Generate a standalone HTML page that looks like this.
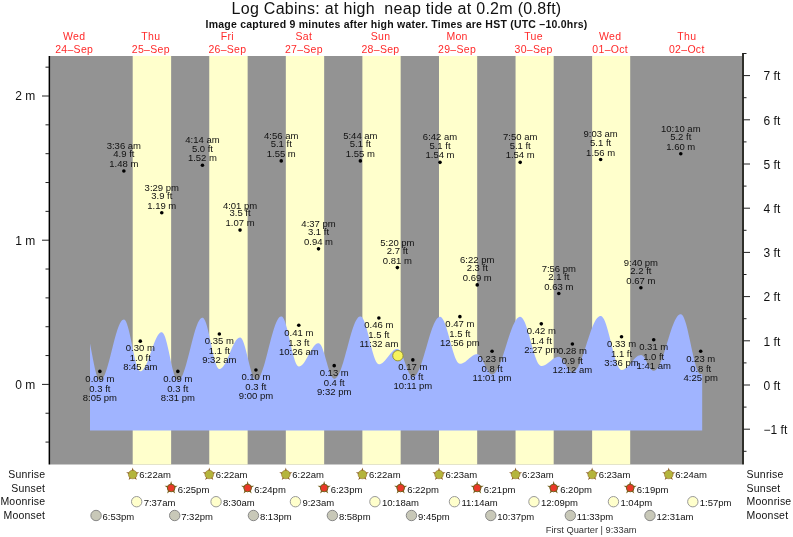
<!DOCTYPE html><html><head><meta charset="utf-8"><style>html,body{margin:0;padding:0;background:#fff;width:793px;height:537px;overflow:hidden}svg{display:block;will-change:transform}text{font-family:"Liberation Sans",sans-serif}</style></head><body>
<svg width="793" height="537" viewBox="0 0 793 537">
<rect width="793" height="537" fill="#fff"/>
<text x="396.5" y="13.6" font-size="16" letter-spacing="0.29" text-anchor="middle" fill="#111">Log Cabins: at high  neap tide at 0.2m (0.8ft)</text>
<text x="396.5" y="27.6" font-size="10.5" letter-spacing="0.23" font-weight="bold" text-anchor="middle" fill="#111">Image captured 9 minutes after high water. Times are HST (UTC –10.0hrs)</text>
<text x="74.2" y="39.7" font-size="10.5" letter-spacing="0.3" text-anchor="middle" fill="#ff2a2a">Wed</text>
<text x="74.2" y="52.6" font-size="10.5" letter-spacing="0.3" text-anchor="middle" fill="#ff2a2a">24–Sep</text>
<text x="150.8" y="39.7" font-size="10.5" letter-spacing="0.3" text-anchor="middle" fill="#ff2a2a">Thu</text>
<text x="150.8" y="52.6" font-size="10.5" letter-spacing="0.3" text-anchor="middle" fill="#ff2a2a">25–Sep</text>
<text x="227.4" y="39.7" font-size="10.5" letter-spacing="0.3" text-anchor="middle" fill="#ff2a2a">Fri</text>
<text x="227.4" y="52.6" font-size="10.5" letter-spacing="0.3" text-anchor="middle" fill="#ff2a2a">26–Sep</text>
<text x="303.9" y="39.7" font-size="10.5" letter-spacing="0.3" text-anchor="middle" fill="#ff2a2a">Sat</text>
<text x="303.9" y="52.6" font-size="10.5" letter-spacing="0.3" text-anchor="middle" fill="#ff2a2a">27–Sep</text>
<text x="380.5" y="39.7" font-size="10.5" letter-spacing="0.3" text-anchor="middle" fill="#ff2a2a">Sun</text>
<text x="380.5" y="52.6" font-size="10.5" letter-spacing="0.3" text-anchor="middle" fill="#ff2a2a">28–Sep</text>
<text x="457.1" y="39.7" font-size="10.5" letter-spacing="0.3" text-anchor="middle" fill="#ff2a2a">Mon</text>
<text x="457.1" y="52.6" font-size="10.5" letter-spacing="0.3" text-anchor="middle" fill="#ff2a2a">29–Sep</text>
<text x="533.6" y="39.7" font-size="10.5" letter-spacing="0.3" text-anchor="middle" fill="#ff2a2a">Tue</text>
<text x="533.6" y="52.6" font-size="10.5" letter-spacing="0.3" text-anchor="middle" fill="#ff2a2a">30–Sep</text>
<text x="610.2" y="39.7" font-size="10.5" letter-spacing="0.3" text-anchor="middle" fill="#ff2a2a">Wed</text>
<text x="610.2" y="52.6" font-size="10.5" letter-spacing="0.3" text-anchor="middle" fill="#ff2a2a">01–Oct</text>
<text x="686.8" y="39.7" font-size="10.5" letter-spacing="0.3" text-anchor="middle" fill="#ff2a2a">Thu</text>
<text x="686.8" y="52.6" font-size="10.5" letter-spacing="0.3" text-anchor="middle" fill="#ff2a2a">02–Oct</text>
<rect x="50" y="56" width="692" height="408.5" fill="#939393"/>
<rect x="132.69" y="56" width="38.44" height="408.5" fill="#ffffcc"/>
<rect x="209.25" y="56" width="38.39" height="408.5" fill="#ffffcc"/>
<rect x="285.82" y="56" width="38.34" height="408.5" fill="#ffffcc"/>
<rect x="362.38" y="56" width="38.28" height="408.5" fill="#ffffcc"/>
<rect x="439.00" y="56" width="38.18" height="408.5" fill="#ffffcc"/>
<rect x="515.56" y="56" width="38.12" height="408.5" fill="#ffffcc"/>
<rect x="592.13" y="56" width="38.07" height="408.5" fill="#ffffcc"/>
<path d="M90.00,430.5 L90.00,343.61 L91.00,348.73 L92.00,354.02 L93.00,359.30 L94.00,364.36 L95.00,368.99 L96.00,373.03 L97.00,376.31 L98.00,378.71 L99.00,380.14 L100.00,380.54 L101.00,380.22 L102.00,379.37 L103.00,378.03 L104.00,376.20 L105.00,373.93 L106.00,371.24 L107.00,368.19 L108.00,364.83 L109.00,361.21 L110.00,357.41 L111.00,353.47 L112.00,349.48 L113.00,345.49 L114.00,341.58 L115.00,337.82 L116.00,334.27 L117.00,330.98 L118.00,328.02 L119.00,325.44 L120.00,323.28 L121.00,321.57 L122.00,320.36 L123.00,319.65 L124.00,319.46 L125.00,320.07 L126.00,321.60 L127.00,323.99 L128.00,327.17 L129.00,331.00 L130.00,335.37 L131.00,340.10 L132.00,345.02 L133.00,349.95 L134.00,354.72 L135.00,359.15 L136.00,363.07 L137.00,366.35 L138.00,368.87 L139.00,370.53 L140.00,371.28 L141.00,371.21 L142.00,370.71 L143.00,369.80 L144.00,368.50 L145.00,366.85 L146.00,364.88 L147.00,362.63 L148.00,360.14 L149.00,357.48 L150.00,354.69 L151.00,351.84 L152.00,348.99 L153.00,346.20 L154.00,343.53 L155.00,341.03 L156.00,338.76 L157.00,336.77 L158.00,335.10 L159.00,333.78 L160.00,332.85 L161.00,332.32 L162.00,332.22 L163.00,332.90 L164.00,334.46 L165.00,336.87 L166.00,340.02 L167.00,343.79 L168.00,348.04 L169.00,352.61 L170.00,357.33 L171.00,362.00 L172.00,366.47 L173.00,370.54 L174.00,374.08 L175.00,376.94 L176.00,379.02 L177.00,380.23 L178.00,380.54 L179.00,380.19 L180.00,379.34 L181.00,378.00 L182.00,376.19 L183.00,373.94 L184.00,371.29 L185.00,368.27 L186.00,364.95 L187.00,361.36 L188.00,357.58 L189.00,353.66 L190.00,349.67 L191.00,345.66 L192.00,341.72 L193.00,337.89 L194.00,334.24 L195.00,330.84 L196.00,327.74 L197.00,324.98 L198.00,322.62 L199.00,320.68 L200.00,319.21 L201.00,318.23 L202.00,317.75 L203.00,317.83 L204.00,318.76 L205.00,320.54 L206.00,323.10 L207.00,326.37 L208.00,330.22 L209.00,334.52 L210.00,339.13 L211.00,343.89 L212.00,348.63 L213.00,353.19 L214.00,357.42 L215.00,361.16 L216.00,364.29 L217.00,366.70 L218.00,368.31 L219.00,369.06 L220.00,369.04 L221.00,368.62 L222.00,367.86 L223.00,366.75 L224.00,365.34 L225.00,363.65 L226.00,361.72 L227.00,359.59 L228.00,357.32 L229.00,354.96 L230.00,352.56 L231.00,350.18 L232.00,347.87 L233.00,345.68 L234.00,343.67 L235.00,341.88 L236.00,340.35 L237.00,339.13 L238.00,338.22 L239.00,337.67 L240.00,337.47 L241.00,337.86 L242.00,339.06 L243.00,341.03 L244.00,343.69 L245.00,346.93 L246.00,350.64 L247.00,354.67 L248.00,358.85 L249.00,363.04 L250.00,367.05 L251.00,370.75 L252.00,373.98 L253.00,376.62 L254.00,378.57 L255.00,379.74 L256.00,380.10 L257.00,379.83 L258.00,379.06 L259.00,377.82 L260.00,376.13 L261.00,374.01 L262.00,371.49 L263.00,368.61 L264.00,365.42 L265.00,361.97 L266.00,358.30 L267.00,354.48 L268.00,350.57 L269.00,346.61 L270.00,342.69 L271.00,338.84 L272.00,335.15 L273.00,331.65 L274.00,328.41 L275.00,325.48 L276.00,322.89 L277.00,320.70 L278.00,318.92 L279.00,317.60 L280.00,316.76 L281.00,316.39 L282.00,316.61 L283.00,317.61 L284.00,319.37 L285.00,321.84 L286.00,324.93 L287.00,328.55 L288.00,332.58 L289.00,336.90 L290.00,341.36 L291.00,345.82 L292.00,350.14 L293.00,354.19 L294.00,357.82 L295.00,360.93 L296.00,363.42 L297.00,365.21 L298.00,366.23 L299.00,366.47 L300.00,366.26 L301.00,365.77 L302.00,364.99 L303.00,363.96 L304.00,362.69 L305.00,361.23 L306.00,359.61 L307.00,357.86 L308.00,356.04 L309.00,354.19 L310.00,352.35 L311.00,350.58 L312.00,348.91 L313.00,347.40 L314.00,346.07 L315.00,344.96 L316.00,344.11 L317.00,343.52 L318.00,343.23 L319.00,343.27 L320.00,343.97 L321.00,345.35 L322.00,347.35 L323.00,349.90 L324.00,352.89 L325.00,356.21 L326.00,359.71 L327.00,363.27 L328.00,366.74 L329.00,369.97 L330.00,372.85 L331.00,375.25 L332.00,377.09 L333.00,378.27 L334.00,378.77 L335.00,378.64 L336.00,378.06 L337.00,377.04 L338.00,375.59 L339.00,373.74 L340.00,371.52 L341.00,368.95 L342.00,366.07 L343.00,362.92 L344.00,359.56 L345.00,356.02 L346.00,352.36 L347.00,348.63 L348.00,344.89 L349.00,341.18 L350.00,337.57 L351.00,334.10 L352.00,330.83 L353.00,327.79 L354.00,325.04 L355.00,322.62 L356.00,320.56 L357.00,318.88 L358.00,317.62 L359.00,316.79 L360.00,316.41 L361.00,316.52 L362.00,317.30 L363.00,318.74 L364.00,320.81 L365.00,323.43 L366.00,326.55 L367.00,330.06 L368.00,333.86 L369.00,337.85 L370.00,341.91 L371.00,345.93 L372.00,349.78 L373.00,353.36 L374.00,356.57 L375.00,359.31 L376.00,361.51 L377.00,363.09 L378.00,364.03 L379.00,364.28 L380.00,364.14 L381.00,363.78 L382.00,363.22 L383.00,362.46 L384.00,361.54 L385.00,360.47 L386.00,359.29 L387.00,358.04 L388.00,356.74 L389.00,355.44 L390.00,354.17 L391.00,352.97 L392.00,351.88 L393.00,350.92 L394.00,350.12 L395.00,349.51 L396.00,349.11 L397.00,348.92 L398.00,349.02 L399.00,349.67 L400.00,350.86 L401.00,352.56 L402.00,354.68 L403.00,357.14 L404.00,359.84 L405.00,362.67 L406.00,365.51 L407.00,368.25 L408.00,370.77 L409.00,372.97 L410.00,374.76 L411.00,376.06 L412.00,376.83 L413.00,377.02 L414.00,376.76 L415.00,376.09 L416.00,375.04 L417.00,373.61 L418.00,371.82 L419.00,369.71 L420.00,367.28 L421.00,364.59 L422.00,361.66 L423.00,358.53 L424.00,355.25 L425.00,351.86 L426.00,348.40 L427.00,344.92 L428.00,341.46 L429.00,338.09 L430.00,334.82 L431.00,331.72 L432.00,328.83 L433.00,326.17 L434.00,323.79 L435.00,321.73 L436.00,319.99 L437.00,318.62 L438.00,317.63 L439.00,317.02 L440.00,316.82 L441.00,317.10 L442.00,317.97 L443.00,319.39 L444.00,321.34 L445.00,323.76 L446.00,326.59 L447.00,329.76 L448.00,333.20 L449.00,336.81 L450.00,340.51 L451.00,344.21 L452.00,347.81 L453.00,351.22 L454.00,354.37 L455.00,357.16 L456.00,359.53 L457.00,361.43 L458.00,362.80 L459.00,363.61 L460.00,363.84 L461.00,363.75 L462.00,363.50 L463.00,363.10 L464.00,362.57 L465.00,361.92 L466.00,361.17 L467.00,360.36 L468.00,359.50 L469.00,358.62 L470.00,357.76 L471.00,356.94 L472.00,356.19 L473.00,355.53 L474.00,354.98 L475.00,354.56 L476.00,354.29 L477.00,354.18 L478.00,354.31 L479.00,354.88 L480.00,355.87 L481.00,357.23 L482.00,358.91 L483.00,360.83 L484.00,362.91 L485.00,365.04 L486.00,367.14 L487.00,369.12 L488.00,370.88 L489.00,372.34 L490.00,373.44 L491.00,374.14 L492.00,374.39 L493.00,374.23 L494.00,373.72 L495.00,372.86 L496.00,371.65 L497.00,370.12 L498.00,368.29 L499.00,366.17 L500.00,363.80 L501.00,361.20 L502.00,358.40 L503.00,355.45 L504.00,352.37 L505.00,349.21 L506.00,346.01 L507.00,342.80 L508.00,339.62 L509.00,336.52 L510.00,333.53 L511.00,330.69 L512.00,328.04 L513.00,325.61 L514.00,323.42 L515.00,321.52 L516.00,319.91 L517.00,318.62 L518.00,317.67 L519.00,317.07 L520.00,316.82 L521.00,317.00 L522.00,317.71 L523.00,318.94 L524.00,320.67 L525.00,322.86 L526.00,325.46 L527.00,328.42 L528.00,331.66 L529.00,335.12 L530.00,338.71 L531.00,342.37 L532.00,346.01 L533.00,349.54 L534.00,352.90 L535.00,356.00 L536.00,358.78 L537.00,361.18 L538.00,363.14 L539.00,364.62 L540.00,365.58 L541.00,366.02 L542.00,366.00 L543.00,365.83 L544.00,365.51 L545.00,365.06 L546.00,364.49 L547.00,363.82 L548.00,363.08 L549.00,362.29 L550.00,361.46 L551.00,360.64 L552.00,359.84 L553.00,359.09 L554.00,358.42 L555.00,357.84 L556.00,357.38 L557.00,357.05 L558.00,356.86 L559.00,356.82 L560.00,357.11 L561.00,357.79 L562.00,358.83 L563.00,360.17 L564.00,361.73 L565.00,363.45 L566.00,365.22 L567.00,366.95 L568.00,368.55 L569.00,369.94 L570.00,371.04 L571.00,371.80 L572.00,372.16 L573.00,372.13 L574.00,371.75 L575.00,371.03 L576.00,369.97 L577.00,368.59 L578.00,366.91 L579.00,364.95 L580.00,362.73 L581.00,360.27 L582.00,357.62 L583.00,354.80 L584.00,351.85 L585.00,348.80 L586.00,345.69 L587.00,342.56 L588.00,339.45 L589.00,336.40 L590.00,333.44 L591.00,330.61 L592.00,327.95 L593.00,325.49 L594.00,323.26 L595.00,321.29 L596.00,319.60 L597.00,318.21 L598.00,317.14 L599.00,316.40 L600.00,316.01 L601.00,315.98 L602.00,316.51 L603.00,317.63 L604.00,319.32 L605.00,321.55 L606.00,324.26 L607.00,327.40 L608.00,330.88 L609.00,334.64 L610.00,338.59 L611.00,342.63 L612.00,346.68 L613.00,350.65 L614.00,354.45 L615.00,357.98 L616.00,361.18 L617.00,363.96 L618.00,366.28 L619.00,368.06 L620.00,369.28 L621.00,369.91 L622.00,369.97 L623.00,369.79 L624.00,369.40 L625.00,368.84 L626.00,368.12 L627.00,367.24 L628.00,366.24 L629.00,365.15 L630.00,363.98 L631.00,362.78 L632.00,361.57 L633.00,360.38 L634.00,359.25 L635.00,358.21 L636.00,357.28 L637.00,356.49 L638.00,355.86 L639.00,355.40 L640.00,355.13 L641.00,355.06 L642.00,355.35 L643.00,356.09 L644.00,357.25 L645.00,358.75 L646.00,360.50 L647.00,362.40 L648.00,364.33 L649.00,366.18 L650.00,367.84 L651.00,369.21 L652.00,370.20 L653.00,370.76 L654.00,370.86 L655.00,370.55 L656.00,369.87 L657.00,368.82 L658.00,367.41 L659.00,365.67 L660.00,363.62 L661.00,361.29 L662.00,358.70 L663.00,355.90 L664.00,352.91 L665.00,349.79 L666.00,346.56 L667.00,343.29 L668.00,340.00 L669.00,336.75 L670.00,333.57 L671.00,330.52 L672.00,327.62 L673.00,324.93 L674.00,322.47 L675.00,320.29 L676.00,318.40 L677.00,316.84 L678.00,315.62 L679.00,314.77 L680.00,314.29 L681.00,314.20 L682.00,314.75 L683.00,316.03 L684.00,318.01 L685.00,320.65 L686.00,323.86 L687.00,327.59 L688.00,331.73 L689.00,336.17 L690.00,340.82 L691.00,345.56 L692.00,350.26 L693.00,354.82 L694.00,359.11 L695.00,363.04 L696.00,366.50 L697.00,369.42 L698.00,371.71 L699.00,373.32 L700.00,374.21 L701.00,374.37 L702.00,373.95 L702.20,373.80 L702.20,430.5 Z" fill="#a0b4ff"/>
<rect x="48.6" y="56" width="1.5" height="408.5" fill="#000"/>
<line x1="45.5" y1="442.08" x2="49" y2="442.08" stroke="#222" stroke-width="1"/>
<line x1="45.5" y1="413.24" x2="49" y2="413.24" stroke="#222" stroke-width="1"/>
<line x1="42" y1="384.40" x2="49" y2="384.40" stroke="#222" stroke-width="1"/>
<line x1="45.5" y1="355.56" x2="49" y2="355.56" stroke="#222" stroke-width="1"/>
<line x1="45.5" y1="326.72" x2="49" y2="326.72" stroke="#222" stroke-width="1"/>
<line x1="45.5" y1="297.88" x2="49" y2="297.88" stroke="#222" stroke-width="1"/>
<line x1="45.5" y1="269.04" x2="49" y2="269.04" stroke="#222" stroke-width="1"/>
<line x1="42" y1="240.20" x2="49" y2="240.20" stroke="#222" stroke-width="1"/>
<line x1="45.5" y1="211.36" x2="49" y2="211.36" stroke="#222" stroke-width="1"/>
<line x1="45.5" y1="182.52" x2="49" y2="182.52" stroke="#222" stroke-width="1"/>
<line x1="45.5" y1="153.68" x2="49" y2="153.68" stroke="#222" stroke-width="1"/>
<line x1="45.5" y1="124.84" x2="49" y2="124.84" stroke="#222" stroke-width="1"/>
<line x1="42" y1="96.00" x2="49" y2="96.00" stroke="#222" stroke-width="1"/>
<line x1="45.5" y1="67.16" x2="49" y2="67.16" stroke="#222" stroke-width="1"/>
<text x="35.3" y="388.70" font-size="12" text-anchor="end" fill="#111">0 m</text>
<text x="35.3" y="244.50" font-size="12" text-anchor="end" fill="#111">1 m</text>
<text x="35.3" y="100.30" font-size="12" text-anchor="end" fill="#111">2 m</text>
<rect x="742.1" y="53" width="1.8" height="411.5" fill="#1a1a14"/>
<line x1="743" y1="451.30" x2="746.5" y2="451.30" stroke="#222" stroke-width="1"/>
<line x1="743" y1="429.20" x2="750" y2="429.20" stroke="#222" stroke-width="1"/>
<line x1="743" y1="407.10" x2="746.5" y2="407.10" stroke="#222" stroke-width="1"/>
<line x1="743" y1="385.00" x2="750" y2="385.00" stroke="#222" stroke-width="1"/>
<line x1="743" y1="362.90" x2="746.5" y2="362.90" stroke="#222" stroke-width="1"/>
<line x1="743" y1="340.80" x2="750" y2="340.80" stroke="#222" stroke-width="1"/>
<line x1="743" y1="318.70" x2="746.5" y2="318.70" stroke="#222" stroke-width="1"/>
<line x1="743" y1="296.60" x2="750" y2="296.60" stroke="#222" stroke-width="1"/>
<line x1="743" y1="274.50" x2="746.5" y2="274.50" stroke="#222" stroke-width="1"/>
<line x1="743" y1="252.40" x2="750" y2="252.40" stroke="#222" stroke-width="1"/>
<line x1="743" y1="230.30" x2="746.5" y2="230.30" stroke="#222" stroke-width="1"/>
<line x1="743" y1="208.20" x2="750" y2="208.20" stroke="#222" stroke-width="1"/>
<line x1="743" y1="186.10" x2="746.5" y2="186.10" stroke="#222" stroke-width="1"/>
<line x1="743" y1="164.00" x2="750" y2="164.00" stroke="#222" stroke-width="1"/>
<line x1="743" y1="141.90" x2="746.5" y2="141.90" stroke="#222" stroke-width="1"/>
<line x1="743" y1="119.80" x2="750" y2="119.80" stroke="#222" stroke-width="1"/>
<line x1="743" y1="97.70" x2="746.5" y2="97.70" stroke="#222" stroke-width="1"/>
<line x1="743" y1="75.60" x2="750" y2="75.60" stroke="#222" stroke-width="1"/>
<line x1="743" y1="53.50" x2="746.5" y2="53.50" stroke="#222" stroke-width="1"/>
<text x="763.6" y="433.90" font-size="12" fill="#111">−1 ft</text>
<text x="763.6" y="389.70" font-size="12" fill="#111">0 ft</text>
<text x="763.6" y="345.50" font-size="12" fill="#111">1 ft</text>
<text x="763.6" y="301.30" font-size="12" fill="#111">2 ft</text>
<text x="763.6" y="257.10" font-size="12" fill="#111">3 ft</text>
<text x="763.6" y="212.90" font-size="12" fill="#111">4 ft</text>
<text x="763.6" y="168.70" font-size="12" fill="#111">5 ft</text>
<text x="763.6" y="124.50" font-size="12" fill="#111">6 ft</text>
<text x="763.6" y="80.30" font-size="12" fill="#111">7 ft</text>
<circle cx="99.88" cy="371.42" r="1.8" fill="#000"/>
<text x="99.88" y="381.72" font-size="9.5" text-anchor="middle" fill="#111">0.09 m</text>
<text x="99.88" y="391.72" font-size="9.5" text-anchor="middle" fill="#111">0.3 ft</text>
<text x="99.88" y="400.72" font-size="9.5" text-anchor="middle" fill="#111">8:05 pm</text>
<circle cx="123.86" cy="170.98" r="1.8" fill="#000"/>
<text x="123.86" y="148.98" font-size="9.5" text-anchor="middle" fill="#111">3:36 am</text>
<text x="123.86" y="157.28" font-size="9.5" text-anchor="middle" fill="#111">4.9 ft</text>
<text x="123.86" y="167.08" font-size="9.5" text-anchor="middle" fill="#111">1.48 m</text>
<circle cx="140.29" cy="341.14" r="1.8" fill="#000"/>
<text x="140.29" y="351.44" font-size="9.5" text-anchor="middle" fill="#111">0.30 m</text>
<text x="140.29" y="361.44" font-size="9.5" text-anchor="middle" fill="#111">1.0 ft</text>
<text x="140.29" y="370.44" font-size="9.5" text-anchor="middle" fill="#111">8:45 am</text>
<circle cx="161.77" cy="212.80" r="1.8" fill="#000"/>
<text x="161.77" y="191.20" font-size="9.5" text-anchor="middle" fill="#111">3:29 pm</text>
<text x="161.77" y="199.10" font-size="9.5" text-anchor="middle" fill="#111">3.9 ft</text>
<text x="161.77" y="208.90" font-size="9.5" text-anchor="middle" fill="#111">1.19 m</text>
<circle cx="177.83" cy="371.42" r="1.8" fill="#000"/>
<text x="177.83" y="381.72" font-size="9.5" text-anchor="middle" fill="#111">0.09 m</text>
<text x="177.83" y="391.72" font-size="9.5" text-anchor="middle" fill="#111">0.3 ft</text>
<text x="177.83" y="400.72" font-size="9.5" text-anchor="middle" fill="#111">8:31 pm</text>
<circle cx="202.44" cy="165.22" r="1.8" fill="#000"/>
<text x="202.44" y="143.22" font-size="9.5" text-anchor="middle" fill="#111">4:14 am</text>
<text x="202.44" y="151.52" font-size="9.5" text-anchor="middle" fill="#111">5.0 ft</text>
<text x="202.44" y="161.32" font-size="9.5" text-anchor="middle" fill="#111">1.52 m</text>
<circle cx="219.35" cy="333.93" r="1.8" fill="#000"/>
<text x="219.35" y="344.23" font-size="9.5" text-anchor="middle" fill="#111">0.35 m</text>
<text x="219.35" y="354.23" font-size="9.5" text-anchor="middle" fill="#111">1.1 ft</text>
<text x="219.35" y="363.23" font-size="9.5" text-anchor="middle" fill="#111">9:32 am</text>
<circle cx="240.04" cy="230.11" r="1.8" fill="#000"/>
<text x="240.04" y="208.51" font-size="9.5" text-anchor="middle" fill="#111">4:01 pm</text>
<text x="240.04" y="216.41" font-size="9.5" text-anchor="middle" fill="#111">3.5 ft</text>
<text x="240.04" y="226.21" font-size="9.5" text-anchor="middle" fill="#111">1.07 m</text>
<circle cx="255.93" cy="369.98" r="1.8" fill="#000"/>
<text x="255.93" y="380.28" font-size="9.5" text-anchor="middle" fill="#111">0.10 m</text>
<text x="255.93" y="390.28" font-size="9.5" text-anchor="middle" fill="#111">0.3 ft</text>
<text x="255.93" y="399.28" font-size="9.5" text-anchor="middle" fill="#111">9:00 pm</text>
<circle cx="281.24" cy="160.89" r="1.8" fill="#000"/>
<text x="281.24" y="138.89" font-size="9.5" text-anchor="middle" fill="#111">4:56 am</text>
<text x="281.24" y="147.19" font-size="9.5" text-anchor="middle" fill="#111">5.1 ft</text>
<text x="281.24" y="156.99" font-size="9.5" text-anchor="middle" fill="#111">1.55 m</text>
<circle cx="298.79" cy="325.28" r="1.8" fill="#000"/>
<text x="298.79" y="335.58" font-size="9.5" text-anchor="middle" fill="#111">0.41 m</text>
<text x="298.79" y="345.58" font-size="9.5" text-anchor="middle" fill="#111">1.3 ft</text>
<text x="298.79" y="354.58" font-size="9.5" text-anchor="middle" fill="#111">10:26 am</text>
<circle cx="318.51" cy="248.85" r="1.8" fill="#000"/>
<text x="318.51" y="227.25" font-size="9.5" text-anchor="middle" fill="#111">4:37 pm</text>
<text x="318.51" y="235.15" font-size="9.5" text-anchor="middle" fill="#111">3.1 ft</text>
<text x="318.51" y="244.95" font-size="9.5" text-anchor="middle" fill="#111">0.94 m</text>
<circle cx="334.20" cy="365.65" r="1.8" fill="#000"/>
<text x="334.20" y="375.95" font-size="9.5" text-anchor="middle" fill="#111">0.13 m</text>
<text x="334.20" y="385.95" font-size="9.5" text-anchor="middle" fill="#111">0.4 ft</text>
<text x="334.20" y="394.95" font-size="9.5" text-anchor="middle" fill="#111">9:32 pm</text>
<circle cx="360.36" cy="160.89" r="1.8" fill="#000"/>
<text x="360.36" y="138.89" font-size="9.5" text-anchor="middle" fill="#111">5:44 am</text>
<text x="360.36" y="147.19" font-size="9.5" text-anchor="middle" fill="#111">5.1 ft</text>
<text x="360.36" y="156.99" font-size="9.5" text-anchor="middle" fill="#111">1.55 m</text>
<circle cx="378.86" cy="318.07" r="1.8" fill="#000"/>
<text x="378.86" y="328.37" font-size="9.5" text-anchor="middle" fill="#111">0.46 m</text>
<text x="378.86" y="338.37" font-size="9.5" text-anchor="middle" fill="#111">1.5 ft</text>
<text x="378.86" y="347.37" font-size="9.5" text-anchor="middle" fill="#111">11:32 am</text>
<circle cx="397.37" cy="267.60" r="1.8" fill="#000"/>
<text x="397.37" y="246.00" font-size="9.5" text-anchor="middle" fill="#111">5:20 pm</text>
<text x="397.37" y="253.90" font-size="9.5" text-anchor="middle" fill="#111">2.7 ft</text>
<text x="397.37" y="263.70" font-size="9.5" text-anchor="middle" fill="#111">0.81 m</text>
<circle cx="412.84" cy="359.89" r="1.8" fill="#000"/>
<text x="412.84" y="370.19" font-size="9.5" text-anchor="middle" fill="#111">0.17 m</text>
<text x="412.84" y="380.19" font-size="9.5" text-anchor="middle" fill="#111">0.6 ft</text>
<text x="412.84" y="389.19" font-size="9.5" text-anchor="middle" fill="#111">10:11 pm</text>
<circle cx="440.01" cy="162.33" r="1.8" fill="#000"/>
<text x="440.01" y="140.33" font-size="9.5" text-anchor="middle" fill="#111">6:42 am</text>
<text x="440.01" y="148.63" font-size="9.5" text-anchor="middle" fill="#111">5.1 ft</text>
<text x="440.01" y="158.43" font-size="9.5" text-anchor="middle" fill="#111">1.54 m</text>
<circle cx="459.89" cy="316.63" r="1.8" fill="#000"/>
<text x="459.89" y="326.93" font-size="9.5" text-anchor="middle" fill="#111">0.47 m</text>
<text x="459.89" y="336.93" font-size="9.5" text-anchor="middle" fill="#111">1.5 ft</text>
<text x="459.89" y="345.93" font-size="9.5" text-anchor="middle" fill="#111">12:56 pm</text>
<circle cx="477.23" cy="284.90" r="1.8" fill="#000"/>
<text x="477.23" y="263.30" font-size="9.5" text-anchor="middle" fill="#111">6:22 pm</text>
<text x="477.23" y="271.20" font-size="9.5" text-anchor="middle" fill="#111">2.3 ft</text>
<text x="477.23" y="281.00" font-size="9.5" text-anchor="middle" fill="#111">0.69 m</text>
<circle cx="492.06" cy="351.23" r="1.8" fill="#000"/>
<text x="492.06" y="361.53" font-size="9.5" text-anchor="middle" fill="#111">0.23 m</text>
<text x="492.06" y="371.53" font-size="9.5" text-anchor="middle" fill="#111">0.8 ft</text>
<text x="492.06" y="380.53" font-size="9.5" text-anchor="middle" fill="#111">11:01 pm</text>
<circle cx="520.19" cy="162.33" r="1.8" fill="#000"/>
<text x="520.19" y="140.33" font-size="9.5" text-anchor="middle" fill="#111">7:50 am</text>
<text x="520.19" y="148.63" font-size="9.5" text-anchor="middle" fill="#111">5.1 ft</text>
<text x="520.19" y="158.43" font-size="9.5" text-anchor="middle" fill="#111">1.54 m</text>
<circle cx="541.30" cy="323.84" r="1.8" fill="#000"/>
<text x="541.30" y="334.14" font-size="9.5" text-anchor="middle" fill="#111">0.42 m</text>
<text x="541.30" y="344.14" font-size="9.5" text-anchor="middle" fill="#111">1.4 ft</text>
<text x="541.30" y="353.14" font-size="9.5" text-anchor="middle" fill="#111">2:27 pm</text>
<circle cx="558.79" cy="293.55" r="1.8" fill="#000"/>
<text x="558.79" y="271.95" font-size="9.5" text-anchor="middle" fill="#111">7:56 pm</text>
<text x="558.79" y="279.85" font-size="9.5" text-anchor="middle" fill="#111">2.1 ft</text>
<text x="558.79" y="289.65" font-size="9.5" text-anchor="middle" fill="#111">0.63 m</text>
<circle cx="572.40" cy="344.02" r="1.8" fill="#000"/>
<text x="572.40" y="354.32" font-size="9.5" text-anchor="middle" fill="#111">0.28 m</text>
<text x="572.40" y="364.32" font-size="9.5" text-anchor="middle" fill="#111">0.9 ft</text>
<text x="572.40" y="373.32" font-size="9.5" text-anchor="middle" fill="#111">12:12 am</text>
<circle cx="600.63" cy="159.45" r="1.8" fill="#000"/>
<text x="600.63" y="137.45" font-size="9.5" text-anchor="middle" fill="#111">9:03 am</text>
<text x="600.63" y="145.75" font-size="9.5" text-anchor="middle" fill="#111">5.1 ft</text>
<text x="600.63" y="155.55" font-size="9.5" text-anchor="middle" fill="#111">1.56 m</text>
<circle cx="621.53" cy="336.81" r="1.8" fill="#000"/>
<text x="621.53" y="347.11" font-size="9.5" text-anchor="middle" fill="#111">0.33 m</text>
<text x="621.53" y="357.11" font-size="9.5" text-anchor="middle" fill="#111">1.1 ft</text>
<text x="621.53" y="366.11" font-size="9.5" text-anchor="middle" fill="#111">3:36 pm</text>
<circle cx="640.88" cy="287.79" r="1.8" fill="#000"/>
<text x="640.88" y="266.19" font-size="9.5" text-anchor="middle" fill="#111">9:40 pm</text>
<text x="640.88" y="274.09" font-size="9.5" text-anchor="middle" fill="#111">2.2 ft</text>
<text x="640.88" y="283.89" font-size="9.5" text-anchor="middle" fill="#111">0.67 m</text>
<circle cx="653.70" cy="339.70" r="1.8" fill="#000"/>
<text x="653.70" y="350.00" font-size="9.5" text-anchor="middle" fill="#111">0.31 m</text>
<text x="653.70" y="360.00" font-size="9.5" text-anchor="middle" fill="#111">1.0 ft</text>
<text x="653.70" y="369.00" font-size="9.5" text-anchor="middle" fill="#111">1:41 am</text>
<circle cx="680.76" cy="153.68" r="1.8" fill="#000"/>
<text x="680.76" y="131.68" font-size="9.5" text-anchor="middle" fill="#111">10:10 am</text>
<text x="680.76" y="139.98" font-size="9.5" text-anchor="middle" fill="#111">5.2 ft</text>
<text x="680.76" y="149.78" font-size="9.5" text-anchor="middle" fill="#111">1.60 m</text>
<circle cx="700.70" cy="351.23" r="1.8" fill="#000"/>
<text x="700.70" y="361.53" font-size="9.5" text-anchor="middle" fill="#111">0.23 m</text>
<text x="700.70" y="371.53" font-size="9.5" text-anchor="middle" fill="#111">0.8 ft</text>
<text x="700.70" y="380.53" font-size="9.5" text-anchor="middle" fill="#111">4:25 pm</text>
<circle cx="397.9" cy="355.7" r="5.2" fill="#f7f35c" stroke="#94923a" stroke-width="1"/>
<text x="45.2" y="478.4" font-size="10.5" letter-spacing="0.2" text-anchor="end" fill="#111">Sunrise</text>
<text x="746.6" y="478.4" font-size="10.5" letter-spacing="0.2" fill="#111">Sunrise</text>
<text x="45.2" y="492.3" font-size="10.5" letter-spacing="0.2" text-anchor="end" fill="#111">Sunset</text>
<text x="746.6" y="492.3" font-size="10.5" letter-spacing="0.2" fill="#111">Sunset</text>
<text x="45.2" y="505.4" font-size="10.5" letter-spacing="0.2" text-anchor="end" fill="#111">Moonrise</text>
<text x="746.6" y="505.4" font-size="10.5" letter-spacing="0.2" fill="#111">Moonrise</text>
<text x="45.2" y="519.2" font-size="10.5" letter-spacing="0.2" text-anchor="end" fill="#111">Moonset</text>
<text x="746.6" y="519.2" font-size="10.5" letter-spacing="0.2" fill="#111">Moonset</text>
<polygon points="132.69,467.60 134.21,472.40 139.25,472.37 135.16,475.30 136.74,480.08 132.69,477.10 128.63,480.08 130.21,475.30 126.12,472.37 131.16,472.40" fill="#8a5a20"/><circle cx="132.69" cy="474.50" r="4.3" fill="#b4b43c" stroke="#8a5a20" stroke-width="0.5"/>
<text x="139.19" y="477.8" font-size="9.5" fill="#111">6:22am</text>
<polygon points="171.13,481.10 172.66,485.90 177.69,485.87 173.60,488.80 175.18,493.58 171.13,490.60 167.07,493.58 168.65,488.80 164.57,485.87 169.60,485.90" fill="#74601c"/><circle cx="171.13" cy="488.00" r="3.8" fill="#ea3828" stroke="#74601c" stroke-width="1.0"/>
<text x="177.63" y="492.5" font-size="9.5" fill="#111">6:25pm</text>
<polygon points="209.25,467.60 210.78,472.40 215.81,472.37 211.72,475.30 213.31,480.08 209.25,477.10 205.19,480.08 206.78,475.30 202.69,472.37 207.72,472.40" fill="#8a5a20"/><circle cx="209.25" cy="474.50" r="4.3" fill="#b4b43c" stroke="#8a5a20" stroke-width="0.5"/>
<text x="215.75" y="477.8" font-size="9.5" fill="#111">6:22am</text>
<polygon points="247.64,481.10 249.17,485.90 254.20,485.87 250.11,488.80 251.69,493.58 247.64,490.60 243.58,493.58 245.17,488.80 241.08,485.87 246.11,485.90" fill="#74601c"/><circle cx="247.64" cy="488.00" r="3.8" fill="#ea3828" stroke="#74601c" stroke-width="1.0"/>
<text x="254.14" y="492.5" font-size="9.5" fill="#111">6:24pm</text>
<polygon points="285.82,467.60 287.34,472.40 292.38,472.37 288.29,475.30 289.87,480.08 285.82,477.10 281.76,480.08 283.34,475.30 279.25,472.37 284.29,472.40" fill="#8a5a20"/><circle cx="285.82" cy="474.50" r="4.3" fill="#b4b43c" stroke="#8a5a20" stroke-width="0.5"/>
<text x="292.32" y="477.8" font-size="9.5" fill="#111">6:22am</text>
<polygon points="324.15,481.10 325.68,485.90 330.71,485.87 326.62,488.80 328.21,493.58 324.15,490.60 320.10,493.58 321.68,488.80 317.59,485.87 322.62,485.90" fill="#74601c"/><circle cx="324.15" cy="488.00" r="3.8" fill="#ea3828" stroke="#74601c" stroke-width="1.0"/>
<text x="330.65" y="492.5" font-size="9.5" fill="#111">6:23pm</text>
<polygon points="362.38,467.60 363.91,472.40 368.94,472.37 364.85,475.30 366.44,480.08 362.38,477.10 358.32,480.08 359.91,475.30 355.82,472.37 360.85,472.40" fill="#8a5a20"/><circle cx="362.38" cy="474.50" r="4.3" fill="#b4b43c" stroke="#8a5a20" stroke-width="0.5"/>
<text x="368.88" y="477.8" font-size="9.5" fill="#111">6:22am</text>
<polygon points="400.66,481.10 402.19,485.90 407.22,485.87 403.14,488.80 404.72,493.58 400.66,490.60 396.61,493.58 398.19,488.80 394.10,485.87 399.13,485.90" fill="#74601c"/><circle cx="400.66" cy="488.00" r="3.8" fill="#ea3828" stroke="#74601c" stroke-width="1.0"/>
<text x="407.16" y="492.5" font-size="9.5" fill="#111">6:22pm</text>
<polygon points="439.00,467.60 440.53,472.40 445.56,472.37 441.47,475.30 443.05,480.08 439.00,477.10 434.94,480.08 436.53,475.30 432.44,472.37 437.47,472.40" fill="#8a5a20"/><circle cx="439.00" cy="474.50" r="4.3" fill="#b4b43c" stroke="#8a5a20" stroke-width="0.5"/>
<text x="445.50" y="477.8" font-size="9.5" fill="#111">6:23am</text>
<polygon points="477.17,481.10 478.70,485.90 483.74,485.87 479.65,488.80 481.23,493.58 477.17,490.60 473.12,493.58 474.70,488.80 470.61,485.87 475.65,485.90" fill="#74601c"/><circle cx="477.17" cy="488.00" r="3.8" fill="#ea3828" stroke="#74601c" stroke-width="1.0"/>
<text x="483.67" y="492.5" font-size="9.5" fill="#111">6:21pm</text>
<polygon points="515.56,467.60 517.09,472.40 522.13,472.37 518.04,475.30 519.62,480.08 515.56,477.10 511.51,480.08 513.09,475.30 509.00,472.37 514.03,472.40" fill="#8a5a20"/><circle cx="515.56" cy="474.50" r="4.3" fill="#b4b43c" stroke="#8a5a20" stroke-width="0.5"/>
<text x="522.06" y="477.8" font-size="9.5" fill="#111">6:23am</text>
<polygon points="553.69,481.10 555.21,485.90 560.25,485.87 556.16,488.80 557.74,493.58 553.69,490.60 549.63,493.58 551.21,488.80 547.12,485.87 552.16,485.90" fill="#74601c"/><circle cx="553.69" cy="488.00" r="3.8" fill="#ea3828" stroke="#74601c" stroke-width="1.0"/>
<text x="560.19" y="492.5" font-size="9.5" fill="#111">6:20pm</text>
<polygon points="592.13,467.60 593.66,472.40 598.69,472.37 594.60,475.30 596.18,480.08 592.13,477.10 588.07,480.08 589.65,475.30 585.57,472.37 590.60,472.40" fill="#8a5a20"/><circle cx="592.13" cy="474.50" r="4.3" fill="#b4b43c" stroke="#8a5a20" stroke-width="0.5"/>
<text x="598.63" y="477.8" font-size="9.5" fill="#111">6:23am</text>
<polygon points="630.20,481.10 631.73,485.90 636.76,485.87 632.67,488.80 634.25,493.58 630.20,490.60 626.14,493.58 627.72,488.80 623.64,485.87 628.67,485.90" fill="#74601c"/><circle cx="630.20" cy="488.00" r="3.8" fill="#ea3828" stroke="#74601c" stroke-width="1.0"/>
<text x="636.70" y="492.5" font-size="9.5" fill="#111">6:19pm</text>
<polygon points="668.75,467.60 670.27,472.40 675.31,472.37 671.22,475.30 672.80,480.08 668.75,477.10 664.69,480.08 666.27,475.30 662.18,472.37 667.22,472.40" fill="#8a5a20"/><circle cx="668.75" cy="474.50" r="4.3" fill="#b4b43c" stroke="#8a5a20" stroke-width="0.5"/>
<text x="675.25" y="477.8" font-size="9.5" fill="#111">6:24am</text>
<circle cx="136.67" cy="501.7" r="5.2" fill="#ffffcc" stroke="#999" stroke-width="1"/>
<text x="143.67" y="505.5" font-size="9.5" fill="#111">7:37am</text>
<circle cx="216.06" cy="501.7" r="5.2" fill="#ffffcc" stroke="#999" stroke-width="1"/>
<text x="223.06" y="505.5" font-size="9.5" fill="#111">8:30am</text>
<circle cx="295.44" cy="501.7" r="5.2" fill="#ffffcc" stroke="#999" stroke-width="1"/>
<text x="302.44" y="505.5" font-size="9.5" fill="#111">9:23am</text>
<circle cx="374.93" cy="501.7" r="5.2" fill="#ffffcc" stroke="#999" stroke-width="1"/>
<text x="381.93" y="505.5" font-size="9.5" fill="#111">10:18am</text>
<circle cx="454.47" cy="501.7" r="5.2" fill="#ffffcc" stroke="#999" stroke-width="1"/>
<text x="461.47" y="505.5" font-size="9.5" fill="#111">11:14am</text>
<circle cx="533.96" cy="501.7" r="5.2" fill="#ffffcc" stroke="#999" stroke-width="1"/>
<text x="540.96" y="505.5" font-size="9.5" fill="#111">12:09pm</text>
<circle cx="613.45" cy="501.7" r="5.2" fill="#ffffcc" stroke="#999" stroke-width="1"/>
<text x="620.45" y="505.5" font-size="9.5" fill="#111">1:04pm</text>
<circle cx="692.83" cy="501.7" r="5.2" fill="#ffffcc" stroke="#999" stroke-width="1"/>
<text x="699.83" y="505.5" font-size="9.5" fill="#111">1:57pm</text>
<circle cx="96.05" cy="515.5" r="5.2" fill="#c8c8b8" stroke="#888" stroke-width="1"/>
<text x="102.55" y="519.8" font-size="9.5" fill="#111">6:53pm</text>
<circle cx="174.69" cy="515.5" r="5.2" fill="#c8c8b8" stroke="#888" stroke-width="1"/>
<text x="181.19" y="519.8" font-size="9.5" fill="#111">7:32pm</text>
<circle cx="253.43" cy="515.5" r="5.2" fill="#c8c8b8" stroke="#888" stroke-width="1"/>
<text x="259.93" y="519.8" font-size="9.5" fill="#111">8:13pm</text>
<circle cx="332.39" cy="515.5" r="5.2" fill="#c8c8b8" stroke="#888" stroke-width="1"/>
<text x="338.89" y="519.8" font-size="9.5" fill="#111">8:58pm</text>
<circle cx="411.46" cy="515.5" r="5.2" fill="#c8c8b8" stroke="#888" stroke-width="1"/>
<text x="417.96" y="519.8" font-size="9.5" fill="#111">9:45pm</text>
<circle cx="490.79" cy="515.5" r="5.2" fill="#c8c8b8" stroke="#888" stroke-width="1"/>
<text x="497.29" y="519.8" font-size="9.5" fill="#111">10:37pm</text>
<circle cx="570.33" cy="515.5" r="5.2" fill="#c8c8b8" stroke="#888" stroke-width="1"/>
<text x="576.83" y="519.8" font-size="9.5" fill="#111">11:33pm</text>
<circle cx="649.98" cy="515.5" r="5.2" fill="#c8c8b8" stroke="#888" stroke-width="1"/>
<text x="656.48" y="519.8" font-size="9.5" fill="#111">12:31am</text>
<text x="591.2" y="533.2" font-size="9.3" text-anchor="middle" fill="#333">First Quarter | 9:33am</text>
</svg></body></html>
